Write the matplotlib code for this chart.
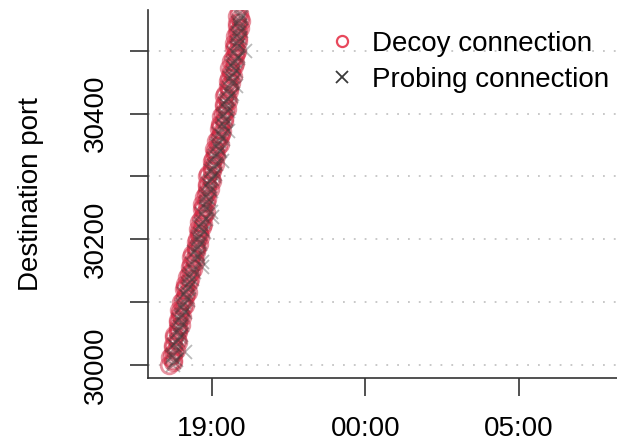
import numpy as np
import pandas as pd
import matplotlib
matplotlib.use("Agg")
import matplotlib.pyplot as plt
import matplotlib.dates as mdates

plt.rcParams['font.family'] = ['Liberation Sans', 'DejaVu Sans']

# start of the capture window
day0 = pd.Timestamp("2016-03-14 17:00")

# decoy connections: destination port, minutes after 17:00
decoy_port_a = [30000, 30008, 30016, 30024, 30032, 30040, 30048, 30056, 30064, 30072,
                30080, 30088, 30096, 30104, 30112, 30120, 30128, 30136, 30144, 30152,
                30160, 30168, 30176, 30184, 30192, 30200, 30208, 30216, 30224, 30232,
                30240, 30248, 30256, 30264, 30272, 30280, 30288, 30296, 30304, 30312,
                30320, 30328, 30336, 30344, 30352, 30360, 30368, 30376, 30384, 30392,
                30400, 30408, 30416, 30424, 30432, 30440, 30448, 30456, 30464, 30472,
                30480, 30488, 30496, 30504, 30512, 30520, 30528, 30536, 30544, 30552,
                30560]
decoy_min_a = [37, 45, 43, 51, 45, 52, 47, 55, 60, 55,
               59, 57, 68, 64, 70, 67, 68, 78, 76, 84,
               79, 86, 81, 90, 95, 91, 95, 93, 104, 100,
               106, 101, 102, 111, 109, 117, 111, 118, 113, 121,
               126, 122, 127, 125, 136, 132, 138, 134, 136, 145,
               143, 151, 144, 151, 146, 154, 158, 154, 158, 155,
               166, 162, 168, 163, 163, 172, 169, 176, 169, 176,
               174]
decoy_port_b = [30004, 30012, 30020, 30028, 30036, 30044, 30052, 30060, 30068, 30076,
                30084, 30092, 30100, 30108, 30116, 30124, 30132, 30140, 30148, 30156,
                30164, 30172, 30180, 30188, 30196, 30204, 30212, 30220, 30228, 30236,
                30244, 30252, 30260, 30268, 30276, 30284, 30292, 30300, 30308, 30316,
                30324, 30332, 30340, 30348, 30356, 30364, 30372, 30380, 30388, 30396,
                30404, 30412, 30420, 30428, 30436, 30444, 30452, 30460, 30468, 30476,
                30484, 30492, 30500, 30508, 30516, 30524, 30532, 30540, 30548, 30556]
decoy_min_b = [45, 39, 46, 45, 54, 46, 55, 55, 54, 62,
               59, 65, 60, 68, 74, 69, 76, 72, 79, 78,
               88, 80, 89, 90, 89, 98, 95, 101, 96, 104,
               109, 103, 110, 105, 112, 111, 120, 112, 121, 121,
               120, 129, 127, 133, 128, 136, 141, 137, 144, 139,
               146, 145, 153, 145, 154, 153, 152, 161, 158, 163,
               158, 166, 170, 165, 171, 165, 172, 170, 178, 169]

# probing connections
probe_port_a = decoy_port_b
probe_min_a = [47, 43, 68, 50, 50, 59, 52, 59, 62, 60,
               69, 62, 67, 73, 70, 76, 78, 76, 85, 102,
               101, 93, 86, 94, 98, 96, 105, 98, 103, 120,
               118, 110, 112, 109, 118, 116, 116, 125, 118, 125,
               140, 127, 137, 130, 135, 141, 152, 144, 146, 143,
               152, 150, 149, 158, 151, 168, 161, 159, 168, 160,
               165, 171, 185, 172, 173, 169, 178, 175, 174, 177]
probe_port_b = decoy_port_a
probe_min_b = [44, 50, 45, 51, 47, 54, 60, 56, 62, 57,
               62, 66, 64, 74, 67, 74, 75, 82, 78, 84,
               81, 88, 94, 91, 97, 93, 98, 102, 100, 110,
               102, 109, 109, 115, 111, 117, 113, 120, 126, 122,
               128, 124, 130, 134, 132, 142, 134, 141, 143, 149,
               145, 151, 146, 153, 159, 155, 160, 156, 161, 164,
               162, 172, 164, 170, 170, 176, 171, 176, 171, 178,
               176]

decoy_port = decoy_port_a + decoy_port_b
decoy_min = decoy_min_a + decoy_min_b
probe_port = probe_port_a + probe_port_b
probe_min = probe_min_a + probe_min_b

decoy_t = day0 + pd.to_timedelta(decoy_min, unit="min")
probe_t = day0 + pd.to_timedelta(probe_min, unit="min")

fig = plt.figure(figsize=(6.17, 4.45), dpi=100)
ax = fig.add_axes([148/617, 67/445, 469/617, 368/445])

ax.plot(decoy_t, decoy_port, linestyle="none", marker="o", markersize=12,
        markerfacecolor="none", markeredgecolor="#d22a44", markeredgewidth=2.0,
        alpha=0.5, label="Decoy connection")
ax.plot(probe_t, probe_port, linestyle="none", marker="x", markersize=10,
        color="#3a3a3a", markeredgewidth=1.3, alpha=0.35, label="Probing connection")

ax.set_xlim(day0 - pd.Timedelta(minutes=4), day0 + pd.Timedelta(minutes=911))
ax.set_ylim(29979, 30565)

xt = [pd.Timestamp("2016-03-14 19:00"), pd.Timestamp("2016-03-15 00:00"),
      pd.Timestamp("2016-03-15 05:00")]
ax.set_xticks(xt)
ax.xaxis.set_major_formatter(mdates.DateFormatter("%H:%M"))

yt = [30000, 30100, 30200, 30300, 30400, 30500]
ax.set_yticks(yt)
ax.set_yticklabels(["30000", "", "30200", "", "30400", ""], rotation=90, va="center")

for y in yt:
    ax.axhline(y, color="#c4c4c4", lw=1.3, linestyle=(0, (1, 5)), zorder=0)

for s in ["top", "right"]:
    ax.spines[s].set_visible(False)
for s in ["left", "bottom"]:
    ax.spines[s].set_color("#333333")
    ax.spines[s].set_linewidth(1.2)

ax.tick_params(axis="both", direction="out", length=13, width=1.2, color="#333333",
               labelsize=20)
ax.tick_params(axis="x", pad=14)
ax.tick_params(axis="y", pad=15)

ax.set_ylabel("Destination port", fontsize=20)
ax.yaxis.set_label_coords(-0.222, 0.5)

leg = ax.legend(loc="upper left", bbox_to_anchor=(328/617, 1 - 31/445),
                bbox_transform=fig.transFigure, frameon=False, fontsize=20,
                handlelength=1.0, handletextpad=0.6, labelspacing=0.35,
                borderaxespad=0, borderpad=0)
for h in leg.legend_handles:
    h.set_alpha(1.0)
    h.set_markersize(8)
leg.legend_handles[0].set_markeredgecolor("#e8485c")
leg.legend_handles[0].set_markeredgewidth(1.6)

fig.savefig("out.png", dpi=100)
